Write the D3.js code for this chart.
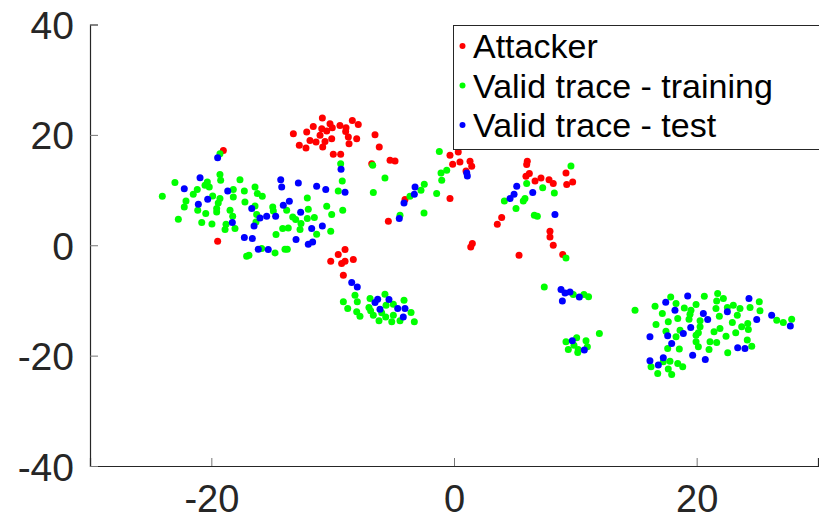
<!DOCTYPE html>
<html>
<head>
<meta charset="utf-8">
<script src="https://cdn.jsdelivr.net/npm/d3@7"></script>
<style>
  html, body { margin: 0; padding: 0; background: #fff; }
  svg { display: block; }
</style>
</head>
<body>
<svg id="chart" width="819" height="520"></svg>
<script>
// ---- data ----
const xTicks = [-20, 0, 20];
const yTicks = [-40, -20, 0, 20, 40];
const legendLabels = ["Attacker", "Valid trace - training", "Valid trace - test"];

const attacker = [
  [-10.85,23.04],[-13.24,20.22],[-12.14,20.51],[-11.60,21.54],[-10.90,21.12],[-10.22,22.03],[-10.03,21.30],[-10.49,20.69],
  [-11.04,19.91],[-11.87,19.00],[-11.37,18.70],[-10.63,18.82],[-10.08,19.31],[-12.75,18.10],[-12.20,17.61],[-10.82,17.79],
  [-9.40,21.72],[-8.90,21.30],[-8.38,22.62],[-7.89,21.90],[-8.93,20.63],[-8.71,19.60],[-8.02,19.31],[-8.65,18.41],
  [-9.95,16.47],[-9.34,16.47],[-6.51,20.04],[-6.16,17.79],[-6.78,14.79],[-5.27,15.38],[-4.86,15.26],
  [-19.01,17.19],[-19.48,0.72],
  [-0.33,16.29],[0.35,16.89],[-0.11,14.66],[0.49,15.08],[1.32,15.20],[1.46,14.30],[0.99,13.45],[-0.33,8.45],
  [6.04,15.20],[5.99,14.61],[6.21,12.98],[5.93,12.49],[6.68,11.64],[7.17,12.18],[7.83,11.89],[8.18,11.17],
  [9.23,13.09],[9.29,10.99],[9.78,11.46],
  [3.93,5.01],[3.57,3.80],[1.51,0.31],[1.38,-0.31],[7.91,2.53],[7.91,1.50],[8.18,0],[5.36,-1.81],[8.96,-1.68],
  [-5.41,4.34],[-8.98,-0.78],[-9.54,-1.68],[-10.16,-2.90],[-9.26,-3.31],[-8.98,-2.90],[-8.30,-2.59],[-9.12,-5.43],[-4.04,8.27]
];

const training = [
  [-19.29,16.60],[-23.00,11.35],[-24.04,8.87],[-22.72,4.71],[-22.23,6.93],[-22.09,8.02],[-21.49,9.23],[-21.16,10.08],
  [-20.52,10.86],[-20.33,11.46],[-20.17,10.55],[-19.89,8.92],[-19.29,12.80],[-19.23,11.76],[-19.29,8.45],[-19.43,7.66],
  [-19.56,6.64],[-19.56,6.03],[-21.12,6.33],[-20.46,5.74],[-20.79,4.11],[-19.95,3.86],[-18.79,3.80],[-18.87,2.84],
  [-18.05,3.02],[-18.46,6.33],[-18.24,5.25],[-18.19,10.08],[-18.19,8.74],[-17.64,11.89],[-17.28,9.83],[-17.23,7.84],
  [-16.40,10.55],[-16.21,9.36],[-15.80,8.87],[-16.40,7.11],[-16.26,5.56],[-16.32,4.22],[-14.94,6.93],[-14.89,6.21],
  [-13.79,6.33],[-14.67,1.94],[-14.12,3.02],[-13.66,3.13],[-13.29,5.12],[-13.05,4.65],[-12.61,3.93],[-12.69,2.84],
  [-12.09,8.56],[-12.01,6.52],[-12.09,4.83],[-11.51,5.01],[-11.32,1.99],[-10.49,7.06],[-10.08,5.56],[-10.16,2.53],
  [-9.54,9.83],[-9.21,11.64],[-9.17,6.33],[-9.34,14.79],[-16.90,-1.81],[-17.09,-1.99],[-15.85,-0.60],[-14.75,-1.39],
  [-13.93,-0.72],[-13.74,-0.72],
  [-6.70,14.48],[-5.69,12.18],[-6.65,9.54],[-1.21,17.01],[-1.07,13.09],[-0.60,13.57],[-1.01,11.76],[-1.43,9.36],
  [-2.45,11.04],[-2.72,9.95],[-3.63,8.87],[-2.47,5.85],[-4.45,5.43],
  [9.64,14.35],[5.99,11.17],[7.31,10.44],[8.27,9.47],[4.15,8.02],[5.85,8.45],[5.71,8.02],[5.11,6.64],[6.62,5.43],
  [6.87,5.25],[9.23,-2.30],
  [7.44,-7.55],[9.83,-8.92],[10.71,-8.92],[11.09,-9.32],[14.92,-11.76],[11.98,-15.98],[10.11,-16.78],[9.23,-17.50],
  [10.88,-17.32],[9.42,-18.88],[9.89,-18.10],[10.24,-18.88],[10.99,-18.41],[10.20,-19.42],
  [-8.16,-9.05],[-9.12,-10.26],[-7.97,-10.26],[-6.92,-9.65],[-5.69,-8.87],[-8.76,-11.46],[-8.02,-12.07],[-7.75,-12.85],
  [-7.01,-11.28],[-6.87,-11.89],[-6.65,-12.67],[-5.60,-10.86],[-5.00,-10.68],[-4.12,-9.95],[-6.18,-13.70],[-5.63,-12.98],
  [-5.13,-13.88],[-5.00,-12.67],[-4.45,-13.70],[-3.54,-12.18],[-3.27,-13.88],[-5.96,-12.25],
  [16.57,-11.04],[17.86,-9.36],[18.30,-10.55],[17.17,-12.36],[16.65,-14.35],[17.66,-13.88],[18.44,-13.27],[17.47,-15.57],
  [18.63,-15.38],[18.30,-16.60],[18.98,-11.35],[19.53,-11.76],[19.95,-10.73],[19.45,-12.49],[19.37,-13.39],[20.28,-13.70],
  [20.28,-14.79],[20.14,-15.87],[19.95,-16.29],[20.63,-9.23],[21.73,-8.74],[22.20,-9.65],[21.65,-10.08],[21.59,-11.46],
  [22.53,-11.28],[23.02,-10.86],[23.57,-11.46],[21.87,-12.85],[23.35,-12.67],[22.94,-13.99],[23.71,-14.79],[24.21,-14.17],
  [24.26,-15.26],[24.40,-11.28],[25.16,-10.26],[25.22,-11.89],[21.92,-15.08],[21.43,-15.69],[22.42,-16.47],[23.22,-15.87],
  [21.10,-17.50],[21.65,-17.61],[19.95,-17.50],[20.14,-18.41],[21.02,-18.88],[18.57,-18.82],[17.61,-18.70],[22.56,-19.49],
  [24.17,-17.19],[24.54,-18.28],[26.60,-13.57],[27.14,-13.99],[27.83,-13.39],[17.80,-21.00],[18.44,-21.41],[18.85,-22.03],
  [16.24,-22.03],[17.66,-22.44],[17.94,-23.40],[16.79,-23.22],[17.25,-21.12]
];

const test = [
  [-19.48,15.87],[-20.93,12.25],[-22.23,10.26],[-21.07,7.42],[-20.30,8.33],[-18.65,9.83],[-18.27,4.11],[-16.67,6.64],
  [-15.99,4.94],[-15.44,5.25],[-14.70,5.25],[-16.48,3.49],[-17.28,1.39],[-16.62,1.21],[-16.13,-0.72],[-15.31,-0.78],
  [-14.28,11.89],[-14.20,10.55],[-12.83,11.28],[-11.32,10.68],[-10.57,10.08],[-8.98,9.59],[-9.31,13.76],[-13.57,7.96],
  [-14.07,7.24],[-12.64,5.97],[-11.73,3.02],[-10.85,3.49],[-13.02,1.03],[-12.01,0.18],[-11.65,0.60],
  [-8.43,-6.75],[-7.97,-7.55],[-6.29,-9.77],[-6.51,-10.37],[-5.36,-9.83],[-6.10,-11.58],[-4.64,-11.46],[-4.04,-11.46],
  [-4.18,-12.98],
  [-3.21,10.55],[-3.27,9.23],[-4.12,7.66],[-4.51,4.83],[1.05,13.09],[1.10,12.54],
  [5.17,10.68],[4.95,9.23],[4.62,8.45],[6.49,9.54],[8.32,5.56],
  [8.82,-8.02],[9.15,-8.63],[9.56,-8.45],[8.93,-10.08],[10.33,-9.36],[9.75,-17.32],[10.74,-19.00],
  [19.26,-9.18],[17.45,-10.32],[18.21,-11.76],[20.55,-12.36],[20.91,-13.45],[22.53,-12.07],[24.31,-9.65],[26.18,-12.67],
  [24.95,-13.45],[27.72,-14.61],[19.51,-14.90],[17.61,-16.42],[18.90,-15.98],[16.15,-16.60],[17.94,-17.79],[23.38,-18.59],
  [23.98,-18.70],[19.67,-19.91],[20.71,-20.69],[16.15,-20.94],[17.25,-20.40],[16.84,-21.72]
];

const seriesColors = ["#ff0000", "#00ff00", "#0000ff"];

// ---- drawing ----
const svg = d3.select("#chart");
const x = d3.scaleLinear().domain([-30, 30]).range([90, 818]);
const y = d3.scaleLinear().domain([-40, 40]).range([466, 24.5]);
const axisColor = "#262626";
const font = "'Liberation Sans', Arial, Helvetica, sans-serif";
const plainFormat = d => String(d); // ASCII hyphen-minus like the reference

// points: attacker, then training, then test on top
const series = [attacker, training, test];
series.forEach((pts, i) => {
  svg.append("g").selectAll("circle").data(pts).join("circle")
    .attr("cx", d => x(d[0]))
    .attr("cy", d => y(d[1]))
    .attr("r", 3.5)
    .attr("fill", seriesColors[i]);
});

// x axis
const xAxis = d3.axisBottom(x).tickValues(xTicks).tickSize(-8).tickPadding(0).tickFormat(plainFormat);
const gx = svg.append("g").attr("transform", `translate(0,${y(-40)})`).call(xAxis);
gx.select(".domain").attr("stroke", axisColor).attr("stroke-width", 1.2);
gx.selectAll(".tick line").attr("stroke", "#777").attr("stroke-width", 1);
gx.selectAll(".tick text")
  .attr("font-family", font).attr("font-size", 38).attr("fill", axisColor)
  .attr("dy", null).attr("y", 46);

// y axis
const yAxis = d3.axisLeft(y).tickValues(yTicks).tickSize(-8).tickPadding(0).tickFormat(plainFormat);
const gy = svg.append("g").attr("transform", `translate(${x(-30)},0)`).call(yAxis);
gy.select(".domain").attr("stroke", axisColor).attr("stroke-width", 1.2);
gy.selectAll(".tick line").attr("stroke", "#777").attr("stroke-width", 1);
gy.selectAll(".tick text")
  .attr("font-family", font).attr("font-size", 39).attr("fill", axisColor)
  .attr("x", -16).attr("dy", "0.36em");

// legend
const lg = svg.append("g");
lg.append("rect").attr("x", 453.5).attr("y", 25.5).attr("width", 400).attr("height", 124)
  .attr("fill", "#fff").attr("stroke", axisColor).attr("stroke-width", 1);
legendLabels.forEach((lab, i) => {
  const base = 58 + i * 39.5;
  lg.append("circle").attr("cx", 462.5).attr("cy", base - 12).attr("r", 3).attr("fill", seriesColors[i]);
  lg.append("text").attr("x", 473).attr("y", base)
    .attr("font-family", font).attr("font-size", 34).attr("fill", "#000").text(lab);
});
</script>
</body>
</html>
